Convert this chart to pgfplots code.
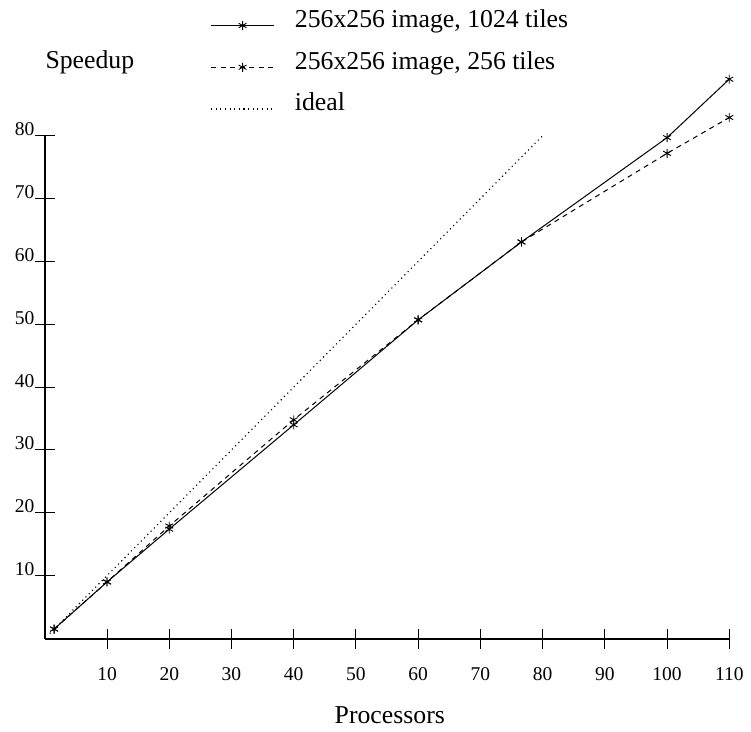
\documentclass[border=0pt]{standalone}
\usepackage{fontspec}
\setmainfont{Liberation Serif}
\usepackage{pgfplots}
\pgfplotsset{compat=1.18}

\begin{document}
\begin{tikzpicture}
\path[use as bounding box] (-17.92pt,-37pt) rectangle (282.48pt,255.4pt);
\begin{axis}[
  scale only axis,
  width=273.8pt, height=201.1pt,
  xmin=0, xmax=110, ymin=0, ymax=80,
  clip=false,
  axis lines=left,
  x axis line style={-, line width=0.8pt},
  y axis line style={-, line width=0.8pt},
  xtick={10,20,...,110},
  ytick={10,20,...,80},
  major tick length=8pt,
  tick align=center,
  tick style={black, line width=0.4pt},
  font=\fontsize{10.3}{12}\selectfont,
  tick label style={font=\fontsize{7.8}{9}\selectfont},
  /pgf/number format/assume math mode=true,
  xticklabel style={anchor=north, inner sep=0pt, yshift=-7.5pt},
  yticklabel style={anchor=base east, inner sep=0pt, xshift=0pt},
  xlabel={Processors},
  xlabel style={at={(rel axis cs:0.504,-0.1687)}, anchor=base, inner sep=0pt},
  ylabel={Speedup},
  ylabel style={rotate=-90, at={(rel axis cs:0.0003,1.1336)}, anchor=base west, inner sep=0pt},
  legend style={draw=none, fill=none, at={(rel axis cs:0.2414,1.2516)}, anchor=north west,
    inner sep=0pt, row sep=7.7pt, column sep=8.1pt,
    nodes={inner sep=0pt, text height=7pt, text depth=2pt}},
  legend cell align=left,
  legend image code/.code={
    \draw[mark repeat=2, mark phase=2, #1] plot coordinates {(0pt,-1.8pt) (12.6pt,-1.8pt) (25.2pt,-1.8pt)};
  },
]
\addplot[black, line width=0.4pt, mark=asterisk, mark size=1.8pt,
  mark options={solid, line width=0.35pt}] coordinates {
  (1.5,1.5) (10,9.0) (20,17.4) (40,34.0) (60,50.7) (76.6,63.1) (100,79.7) (110,89.0)
};
\addlegendentry{256x256 image, 1024 tiles}
\addplot[black, line width=0.4pt, dash pattern=on 2pt off 1.8pt, mark=asterisk, mark size=1.8pt,
  mark options={solid, line width=0.35pt}] coordinates {
  (1.5,1.5) (10,9.0) (20,17.9) (40,34.8) (60,50.7) (76.6,63.1) (100,77.2) (110,82.9)
};
\addlegendentry{256x256 image, 256 tiles}
\addplot[black, line width=0.45pt, dash pattern=on 0.45pt off 1.4pt] coordinates {
  (0.8,0.8) (80,80)
};
\addlegendentry{ideal}
\end{axis}
\end{tikzpicture}
\end{document}
